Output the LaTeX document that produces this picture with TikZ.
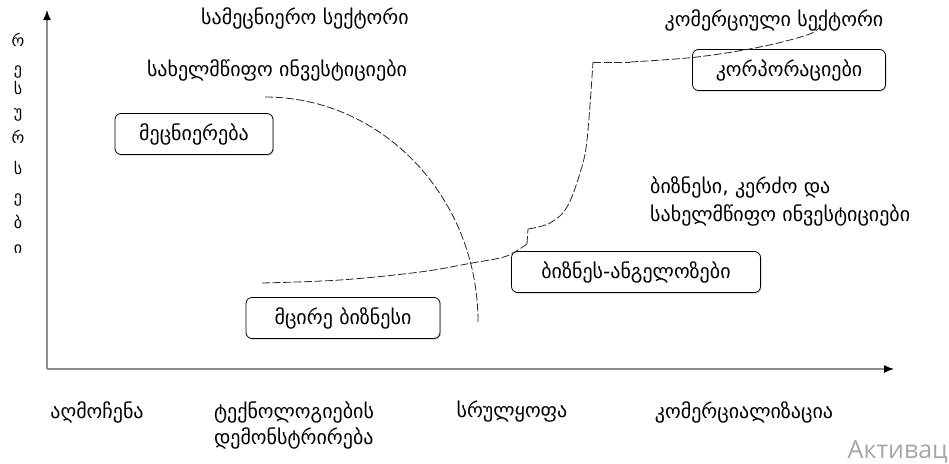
\documentclass[tikz,border=0pt]{standalone}
\usepackage{fontspec}
\setmainfont{DejaVu Sans}
\newfontfamily\wmfont{Open Sans}
\usetikzlibrary{arrows.meta,shadows}
\begin{document}
\begin{tikzpicture}[x=1pt,y=-1pt,
  axisline/.style={draw=black!45, line width=1.4pt},
  stagebox/.style={draw=black, line width=0.8pt, rounded corners=6pt, fill=white,
    minimum height=41pt, inner sep=0pt, font=\fontsize{20}{24}\selectfont,
    drop shadow={shadow xshift=1pt, shadow yshift=-1.2pt, opacity=0.35}},
  lbl/.style={font=\fontsize{20}{24}\selectfont, inner sep=0pt},
  vlet/.style={font=\fontsize{16}{18}\selectfont, inner sep=0pt},
  flowcurve/.style={draw=black!85, line width=0.8pt, dash pattern=on 8pt off 2.5pt},
]
\useasboundingbox (0,0) rectangle (949,463);

% axes
\coordinate (O) at (47,369);
\coordinate (ytop) at (47,10);
\coordinate (xend) at (894,369);
\draw[axisline, -{Latex[length=10pt,width=8pt,black]}] (O) -- (ytop);
\draw[axisline, -{Latex[length=10pt,width=8pt,black]}] (O) -- (xend);

% vertical axis label
\node[vlet] (v1) at (18,40) {რ};
\node[vlet] (v2) at (18,72) {ე};
\node[vlet] (v3) at (18,88) {ს};
\node[vlet] (v4) at (18,115) {უ};
\node[vlet] (v5) at (18,137) {რ};
\node[vlet] (v6) at (18,168) {ს};
\node[vlet] (v7) at (18,200) {ე};
\node[vlet] (v8) at (18,222) {ბ};
\node[vlet] (v9) at (18,249) {ი};

% top labels
\node[lbl] (sci) at (305,18) {სამეცნიერო სექტორი};
\node[lbl] (com) at (774,20) {კომერციული სექტორი};
\node[lbl] (stinv) at (277,70) {სახელმწიფო ინვესტიციები};
\node[lbl, anchor=west] (biz1) at (650,187) {ბიზნესი, კერძო და};
\node[lbl, anchor=west] (biz2) at (650,215) {სახელმწიფო ინვესტიციები};

% boxes
\node[stagebox, minimum width=158pt] (science) at (194,134) {მეცნიერება};
\node[stagebox, minimum width=193pt] (corp) at (789,70) {კორპორაციები};
\node[stagebox, minimum width=249pt] (angels) at (636,272) {ბიზნეს-ანგელოზები};
\node[stagebox, minimum width=194pt] (small) at (343,318) {მცირე ბიზნესი};

% bottom labels
\node[lbl] (disc) at (97,412) {აღმოჩენა};
\node[lbl, align=left] (demo) at (294,425) {ტექნოლოგიების\\[2pt]დემონსტრირება};
\node[lbl] (perf) at (512,412) {სრულყოფა};
\node[lbl] (comm) at (744,412) {კომერციალიზაცია};

% curve 1: state investments
\coordinate (c1s) at (265,97);
\coordinate (c1e) at (478,322);
\draw[flowcurve] (c1s) .. controls (383,97) and (478,198) .. (c1e);

% curve 2: business investments
\coordinate (c2a) at (262,283);
\coordinate (c2b) at (527,244);
\coordinate (c2c) at (528,229);
\coordinate (c2d) at (593,62);
\coordinate (c2e) at (630,62);
\coordinate (c2f) at (820,27);
\draw[flowcurve] plot[smooth, tension=0.6] coordinates {(262,283) (340,280) (420,272) (472,263) (500,258) (513,253) (527,244)};
\draw[flowcurve] (c2b) -- (c2c);
\draw[flowcurve] plot[smooth, tension=0.6] coordinates {(528,229) (550,223) (567,207) (580,173) (587,140) (593,62)};
\draw[flowcurve] (c2d) -- (c2e);
\draw[flowcurve] plot[smooth, tension=0.6] coordinates {(630,62) (697,57) (760,47) (807,35) (820,27)};

% watermark
\node[anchor=base east, inner sep=0pt, text=black!35, font=\wmfont\fontsize{25}{27}\selectfont] (wm) at (948,458) {Активац};
\end{tikzpicture}
\end{document}
